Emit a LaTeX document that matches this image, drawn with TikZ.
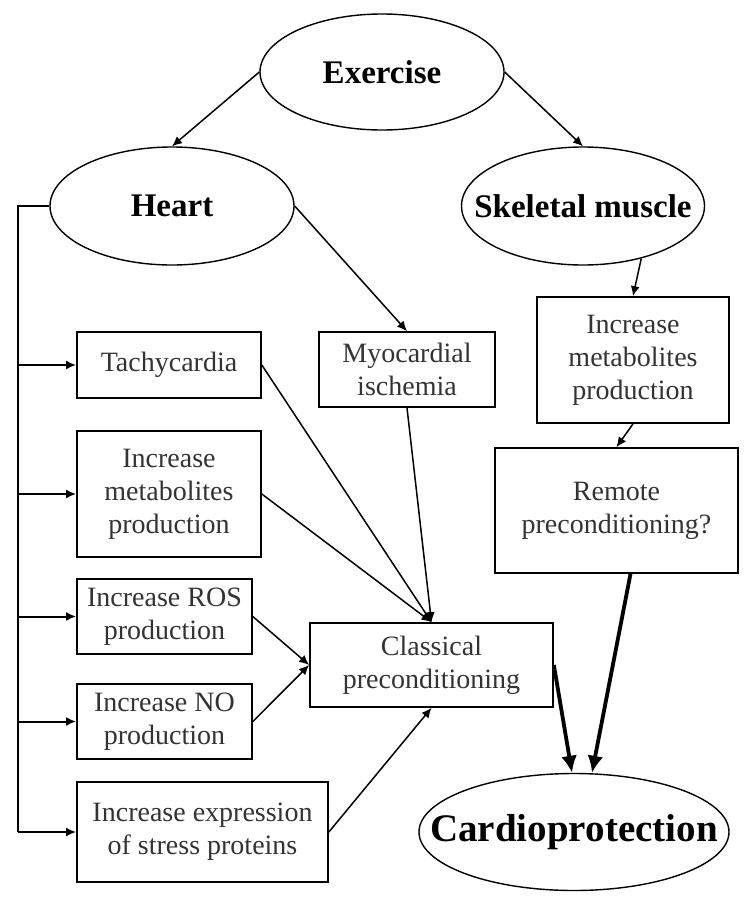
\documentclass[tikz,border=0pt]{standalone}
\usepackage{fontspec}
\setmainfont{Liberation Serif}
\usetikzlibrary{shapes.geometric,arrows.meta}

\begin{document}
\begin{tikzpicture}[x=1pt,y=-1pt,
    box/.style ={rectangle, draw, line width=1.7pt, inner sep=0pt, align=center,
                 text=black!80, font=\fontsize{28}{33}\selectfont},
    oval/.style ={ellipse, draw, line width=1.4pt, inner sep=0pt,
                 font=\fontsize{33}{38}\selectfont\bfseries},
    link/.style ={line width=1.5pt, -{Latex[length=10pt,width=9pt]}},
    bigarrow/.style ={line width=3.8pt, -{Latex[length=17pt,width=16pt]}}]
   \useasboundingbox (0,0) rectangle (754,903);
   % ellipses
   \node[oval, minimum width=244pt, minimum height=116pt] (exercise) at (382,72) {\makebox[0pt]{Exercise}};
   \node[oval, minimum width=244pt, minimum height=118pt] (heart) at (172,206) {\makebox[0pt]{Heart}};
   \node[oval, minimum width=243pt, minimum height=118pt] (skeletal) at (583,206) {\makebox[0pt]{Skeletal muscle}};
   \node[oval, minimum width=310pt, minimum height=117pt, font=\fontsize{39}{44}\selectfont\bfseries]
        (cardio) at (574,832) {\makebox[0pt]{Cardioprotection}};
   % boxes
   \node[box, minimum width=184pt, minimum height=66pt]  (tachy) at (169,365) {Tachycardia};
   \node[box, minimum width=184pt, minimum height=126pt] (metab) at (169,494) {Increase\\metabolites\\production};
   \node[box, minimum width=175pt, minimum height=75pt]  (ros) at (164.5,616.5) {Increase ROS\\production};
   \node[box, minimum width=175pt, minimum height=75pt]  (nitric) at (164.5,721.5) {Increase NO\\production};
   \node[box, minimum width=251pt, minimum height=100pt] (stress) at (202.5,832) {Increase expression\\of stress proteins};
   \node[box, minimum width=176pt, minimum height=75pt]  (myo) at (407,369.5) {Myocardial\\ischemia};
   \node[box, minimum width=243pt, minimum height=84pt]  (classical) at (431.5,665) {Classical\\preconditioning};
   \node[box, minimum width=192pt, minimum height=126pt] (musclemetab) at (633,360) {Increase\\metabolites\\production};
   \node[box, minimum width=243pt, minimum height=125pt] (remote) at (616.5,510.5) {Remote\\preconditioning?};
   % connectors
   \draw[link] (exercise.west) -- (heart.north);
   \draw[link] (exercise.east) -- (skeletal.north);
   \draw[link] (heart.east) -- (myo.north);
   \draw[link] (skeletal.-42) -- (musclemetab.north);
   \draw[link] (musclemetab.south) -- (remote.north);
   \coordinate (bus) at (18,206);
   \draw[line width=2pt] (heart.west) -- (bus) -- (bus |- stress.west);
   \foreach \n in {tachy,metab,ros,nitric,stress}
      \draw[link, line width=2pt] (bus |- \n.west) -- (\n.west);
   \draw[link] (tachy.east) -- (classical.north);
   \draw[link] (metab.east) -- (classical.north);
   \draw[link] (myo.south) -- (classical.north);
   \draw[link] (ros.east) -- (classical.west);
   \draw[link] (nitric.east) -- (classical.west);
   \draw[link] (stress.east) -- (classical.south);
   \draw[bigarrow] (classical.east) -- ([xshift=-2pt]cardio.north);
   \draw[bigarrow] ([xshift=14pt]remote.south) -- ([xshift=18pt]cardio.north);
\end{tikzpicture}
\end{document}
